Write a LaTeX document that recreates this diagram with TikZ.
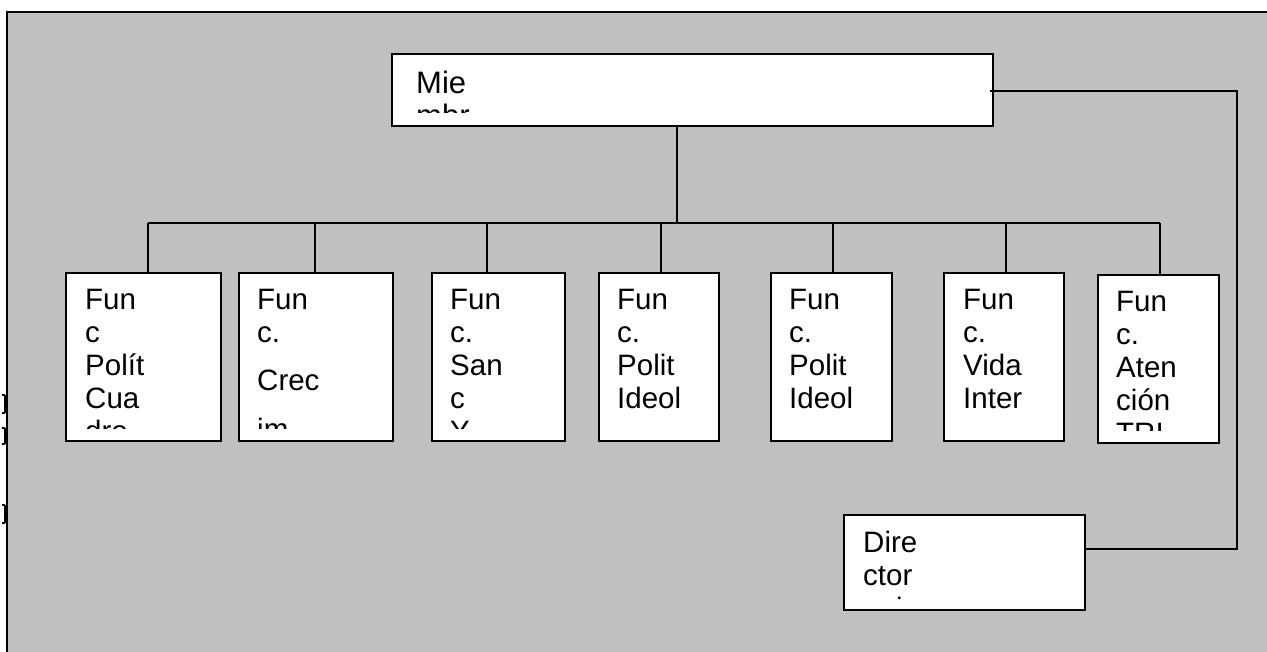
\documentclass[tikz,border=0pt]{standalone}
\usepackage{fontspec}
\setmainfont{Liberation Sans}
\newcommand\mystack[1]{\vtop{\baselineskip=33pt\lineskiplimit=-100pt\lineskip=0pt\halign{##\hfil\cr#1\cr}}}
\tikzset{
  boxnode/.style={draw=black, fill=white, line width=1.6pt, inner sep=0pt, anchor=north west},
  txtnode/.style={anchor=base west, inner sep=0pt, font=\fontsize{29.5}{33}\selectfont},
  conn/.style={draw=black, line width=1.3pt},
}
\begin{document}
\begin{tikzpicture}[x=1pt,y=-1pt]
\useasboundingbox (0,0) rectangle (1267,652);
\fill[fill={rgb,255:red,192;green,192;blue,192}] (7,12) rectangle (1267,652);
\draw[line width=2pt] (7,652) -- (7,12) -- (1267,12);
% left stray ticks
\draw[line width=1.2pt] (5,395) -- (5,413) (2,395) -- (5,395) (2,413) -- (5,413);
\draw[line width=1.2pt] (5,428) -- (5,444) (2,428) -- (5,428) (2,444) -- (5,444);
\draw[line width=1.2pt] (5,505) -- (5,523) (2,505) -- (5,505) (2,523) -- (5,523);
% boxes
\node[boxnode, minimum width=601pt, minimum height=72pt] (top) at (391,53) {};
\node[boxnode, minimum width=155pt, minimum height=168pt] (b1) at (65,272) {};
\node[boxnode, minimum width=154pt, minimum height=168pt] (b2) at (238,272) {};
\node[boxnode, minimum width=133pt, minimum height=168pt] (b3) at (431,272) {};
\node[boxnode, minimum width=120pt, minimum height=168pt] (b4) at (598,272) {};
\node[boxnode, minimum width=121pt, minimum height=168pt] (b5) at (770,272) {};
\node[boxnode, minimum width=120pt, minimum height=168pt] (b6) at (943,272) {};
\node[boxnode, minimum width=121pt, minimum height=168pt] (b7) at (1097,274) {};
\node[boxnode, minimum width=241pt, minimum height=95pt] (dir) at (843,514) {};
% texts (clipped)
\begin{scope}\clip (393,55) rectangle (990,113);
\node[txtnode, font=\fontsize{31}{33}\selectfont] (ttop) at (416,94) {\mystack{Mie\cr mbr}};\end{scope}
\begin{scope}\clip (67,274) rectangle (218,428);
\node[txtnode] (t1) at (85,310) {\mystack{Fun\cr c\cr Polít\cr Cua\cr dro}};\end{scope}
\begin{scope}\clip (240,274) rectangle (390,428);
\node[txtnode] (t2) at (257,310) {\mystack{Fun\cr c.\cr \noalign{\vskip15pt} Crec\cr \noalign{\vskip16pt} im}};\end{scope}
\begin{scope}\clip (433,274) rectangle (562,428);
\node[txtnode] (t3) at (450,310) {\mystack{Fun\cr c.\cr San\cr c\cr Y}};\end{scope}
\begin{scope}\clip (600,274) rectangle (716,428);
\node[txtnode] (t4) at (617,310) {\mystack{Fun\cr c.\cr Polit\cr Ideol}};\end{scope}
\begin{scope}\clip (772,274) rectangle (889,428);
\node[txtnode] (t5) at (789,310) {\mystack{Fun\cr c.\cr Polit\cr Ideol}};\end{scope}
\begin{scope}\clip (945,274) rectangle (1061,428);
\node[txtnode] (t6) at (963,310) {\mystack{Fun\cr c.\cr Vida\cr Inter}};\end{scope}
\begin{scope}\clip (1099,276) rectangle (1216,430);
\node[txtnode] (t7) at (1116,312) {\mystack{Fun\cr c.\cr Aten\cr ción\cr TRI}};\end{scope}
\begin{scope}\clip (845,516) rectangle (1082,600);
\node[txtnode] (td) at (863,552) {\mystack{Dire\cr ctor\cr \hspace{33pt}i}};\end{scope}
% connectors
\coordinate (stem) at (677,223);
\coordinate (busL) at (148,223);
\coordinate (busR) at (1160,223);
\coordinate (rt) at (1237,91);
\coordinate (rb) at (1237,549);
\draw[conn] (top.south -| stem) -- (stem);
\draw[conn] (busL) -- (busR);
\foreach \b/\xx in {b1/148,b2/315,b3/487,b4/661,b5/833,b6/1006,b7/1160}{
  \coordinate (d\b) at (\xx,223);
  \draw[conn] (d\b) -- (d\b |- \b.north);
}
\draw[conn] (top.east |- rt) ++(-4,0) -- (rt) -- (rb) -- (dir.east |- rb);
\end{tikzpicture}
\end{document}
